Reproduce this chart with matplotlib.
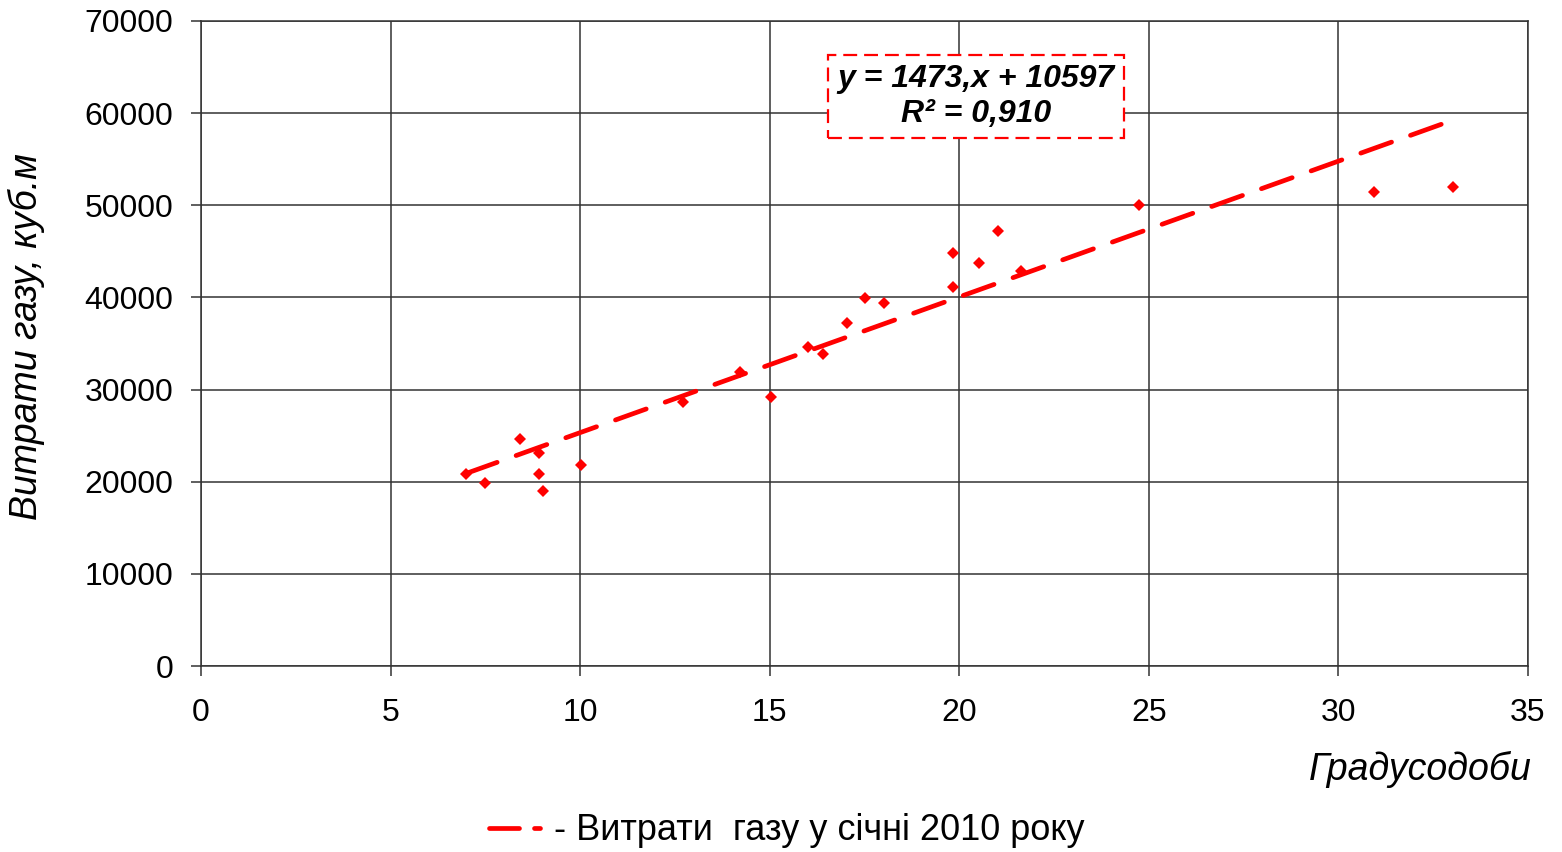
import numpy as np
import matplotlib
matplotlib.use("Agg")
import matplotlib.pyplot as plt
from matplotlib.lines import Line2D

plt.rcParams['font.family'] = ['Liberation Sans', 'DejaVu Sans']
plt.rcParams['lines.scale_dashes'] = False

# degree-days vs gas consumption, January 2010
degdays = [7.0, 7.5, 8.42, 8.92, 8.92, 9.02, 10.02, 12.71, 14.22, 15.03,
           16.01, 16.41, 17.04, 17.52, 18.02, 19.84, 19.84, 20.52, 21.02,
           21.63, 24.74, 30.94, 33.03]
gas = [20800, 19860, 24640, 23120, 20840, 18990, 21810, 28700, 31900, 29190,
       34620, 33860, 37220, 39940, 39400, 41130, 44820, 43740, 47210,
       42870, 50030, 51440, 51990]

# trend line coefficients (from the chart label)
slope = 1473
intercept = 10597
r2 = 0.910

red = '#ff0000'
grid_c = '#333333'

fig = plt.figure(figsize=(15.62, 8.52), dpi=100)
ax = fig.add_axes([0.1287, 0.2183, 0.8495, 0.7571])

ax.plot(degdays, gas, linestyle='none', marker='D', markersize=6,
        color=red, markeredgewidth=0, zorder=4)

xt = np.array([min(degdays), max(degdays)])
ax.plot(xt, slope * xt + intercept, color=red, linewidth=3.4,
        dashes=(23.5, 14.5), dash_capstyle='round', zorder=3)

ax.set_xlim(0, 35)
ax.set_ylim(0, 70000)
ax.set_xticks(np.arange(0, 36, 5))
ax.set_yticks(np.arange(0, 70001, 10000))
ax.grid(True, color=grid_c, linewidth=1.1)
ax.set_axisbelow(True)
for s in ax.spines.values():
    s.set_color(grid_c)
    s.set_linewidth(1.1)
ax.tick_params(axis='both', direction='out', length=7, width=1.1,
               color=grid_c, labelsize=23)
ax.tick_params(axis='x', pad=16)
ax.tick_params(axis='y', pad=13)

ax.set_ylabel('Витрати газу, куб.м', fontsize=27, style='italic')
ax.yaxis.set_label_coords(-0.1176, 0.51)
ax.text(1.003, -0.16, 'Градусодоби', transform=ax.transAxes, fontsize=27,
        style='italic', ha='right', va='center')

eq = 'y = %d,x + %d\nR² = %s' % (slope, intercept, ('%.3f' % r2).replace('.', ','))
ax.text(20.44, 61800, eq, fontsize=23, style='italic', weight='bold',
        ha='center', va='center', linespacing=1.2, zorder=5,
        bbox=dict(boxstyle='square,pad=0.3', facecolor='white',
                  edgecolor=red, linestyle=(0, (10, 5)), linewidth=1.6))

handle = Line2D([], [], color=red, linewidth=3.4, dashes=(21.6, 10.8, 7.2, 30),
                dash_capstyle='round')
fig.legend([handle], ['- Витрати  газу у січні 2010 року'], loc='center',
           bbox_to_anchor=(0.504, 0.025), frameon=False, fontsize=26,
           handlelength=1.4, handletextpad=0.4)

fig.savefig('out.png', dpi=100)
